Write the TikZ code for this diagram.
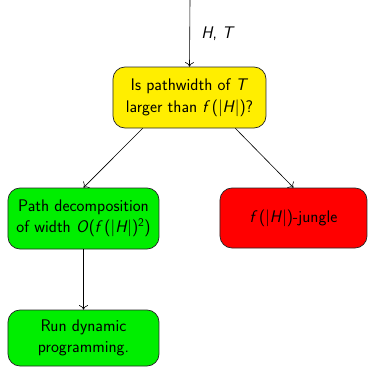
\documentclass[tikz,border=0pt]{standalone}
\usetikzlibrary{arrows.meta}
\definecolor{boxyellow}{RGB}{255,238,0}
\definecolor{boxgreen}{RGB}{0,238,0}
\definecolor{boxred}{RGB}{255,0,0}
\newcommand{\iv}[1]{\textit{#1}}
\newcommand{\fn}{\textit{f}\kern1.5pt}
\tikzset{
  box/.style={draw=black!85, line width=0.7pt, rounded corners=12pt,
    align=center, inner sep=0pt},
  flow/.style={-{To[length=4.5pt,width=9pt]}, line width=0.6pt},
}
\begin{document}
\begin{tikzpicture}[x=1pt, y=-1pt, font=\fontsize{16.8}{21.5}\selectfont\sffamily]
  \useasboundingbox (0,0) rectangle (368,367);

  \node[box, fill=boxyellow, minimum width=153pt, minimum height=61pt]
    (test) at (189.5,97.5) {Is pathwidth of \iv{T}\\larger than \fn(|\iv{H}|)?};
  \node[box, fill=boxgreen, minimum width=151pt, minimum height=61pt]
    (pd) at (83.5,218.5) {Path decomposition\\of width \iv{O}(\fn(|\iv{H}|)\textsuperscript{2})};
  \node[box, fill=boxred, minimum width=147pt, minimum height=60pt]
    (jungle) at (293.5,218) {\fn(|\iv{H}|)-jungle};
  \node[box, fill=boxgreen, minimum width=151pt, minimum height=56pt]
    (dp) at (83.5,338) {Run dynamic\\programming.};

  \coordinate (in) at (190,0);
  \draw[flow] (in) -- (test.north) node[midway, right=8pt] {\iv{H}, \iv{T}};
  \draw[flow] ([xshift=30pt]test.south west) -- (pd.north);
  \draw[flow] ([xshift=-31pt]test.south east) -- (jungle.north);
  \draw[flow] (pd.south) -- (dp.north);
\end{tikzpicture}
\end{document}
